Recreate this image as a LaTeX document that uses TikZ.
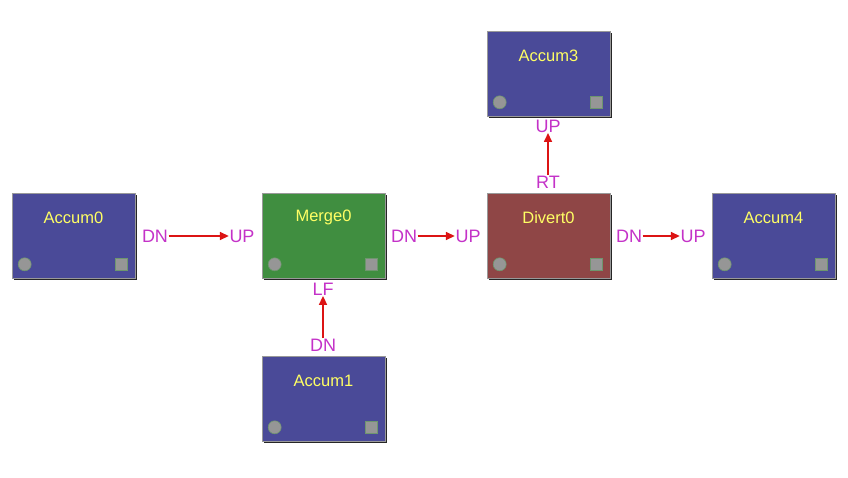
\documentclass[tikz,border=0pt]{standalone}
\usepackage{fontspec}
\setmainfont{Liberation Sans}
\usetikzlibrary{arrows.meta,shadows,calc}
\definecolor{boxblue}{RGB}{74,74,152}
\definecolor{boxgreen}{RGB}{64,142,64}
\definecolor{boxred}{RGB}{143,70,70}
\definecolor{titleyellow}{RGB}{255,255,100}
\definecolor{portmag}{RGB}{196,50,200}
\definecolor{arrred}{RGB}{220,20,20}
\definecolor{knobgray}{RGB}{150,150,150}
\definecolor{knobedge}{RGB}{110,150,110}
\tikzset{
  blk/.style={rectangle, minimum width=123pt, minimum height=85pt, inner sep=0pt,
    draw=black!40, line width=0.6pt,
    drop shadow={shadow xshift=2pt, shadow yshift=-2pt, fill=black!85, opacity=1}},
  blktitle/.style={text=titleyellow, font=\fontsize{16.5}{18}\selectfont, inner sep=0pt},
  knobc/.style={circle, fill=knobgray, draw=knobedge, line width=0.6pt, minimum size=13pt, inner sep=0pt},
  knobs/.style={rectangle, fill=knobgray, draw=knobedge, line width=0.8pt, minimum size=12pt, inner sep=0pt},
  port/.style={text=portmag, font=\fontsize{18}{20}\selectfont, inner sep=0.5pt},
  conn/.style={draw=arrred, line width=1.6pt, -{Triangle[length=9pt,width=8pt]}}
}
\newcommand{\mkblock}[4]{%
  \node[blk, fill=#4] (#1) at (#2) {};
  \node[blktitle] (#1t) at ($(#1.north)+(0,25)$) {#3};
  \node[knobc] (#1c) at ($(#1.south west)+(13,-14)$) {};
  \node[knobs] (#1s) at ($(#1.south east)+(-14,-14)$) {};
}
\begin{document}
\begin{tikzpicture}[x=1pt,y=-1pt]
\useasboundingbox[fill=white] (0,0) rectangle (848,477);
\mkblock{acc0}{73.5,235.5}{Accum0}{boxblue}
\mkblock{mrg}{323.5,235.5}{Merge0}{boxgreen}
\mkblock{div}{548.5,235.5}{Divert0}{boxred}
\mkblock{acc4}{773.5,235.5}{Accum4}{boxblue}
\mkblock{acc3}{548.5,73.5}{Accum3}{boxblue}
\mkblock{acc1}{323.5,398.5}{Accum1}{boxblue}
% horizontal ports
\node[port] (p1a) at (155,236) {DN};
\node[port] (p1b) at (242,236) {UP};
\node[port] (p2a) at (404,236) {DN};
\node[port] (p2b) at (468,236) {UP};
\node[port] (p3a) at (629,236) {DN};
\node[port] (p3b) at (693,236) {UP};
\draw[conn] (p1a.east) -- (p1b.west);
\draw[conn] (p2a.east) -- (p2b.west);
\draw[conn] (p3a.east) -- (p3b.west);
% vertical ports
\node[port] (q1a) at (548,182) {RT};
\node[port] (q1b) at (548,126) {UP};
\draw[conn] (q1a.north) -- (q1b.south);
\node[port] (q2a) at (323,345) {DN};
\node[port] (q2b) at (323,289) {LF};
\draw[conn] (q2a.north) -- (q2b.south);
\end{tikzpicture}
\end{document}
